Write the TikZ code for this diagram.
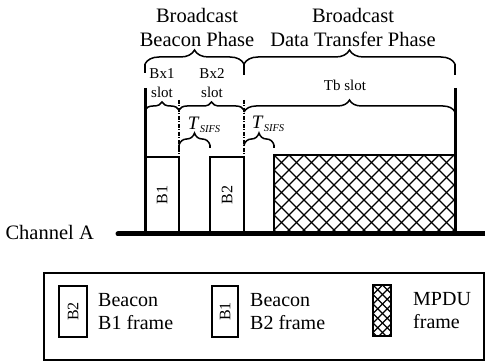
\documentclass[tikz,border=0pt]{standalone}
\usepackage{fontspec}
\setmainfont{Liberation Serif}
\usetikzlibrary{decorations.pathreplacing}
\begin{document}
\begin{tikzpicture}[x=1pt,y=-1pt,
  lbl/.style={font=\fontsize{20.5}{24}\selectfont, align=center, inner sep=0pt},
  leglbl/.style={font=\fontsize{20}{23}\selectfont, align=left, inner sep=0pt, anchor=west},
  small/.style={font=\fontsize{15}{18.5}\selectfont, align=center, inner sep=0pt},
  boxlbl/.style={font=\fontsize{16}{16}\selectfont, inner sep=0pt, rotate=90},
  tsifs/.style={inner sep=0pt},
  frame/.style={draw, line width=1.6pt, fill=white},
  thick/.style={line width=3pt},
  dashdotline/.style={line width=1.3pt, dash pattern=on 4pt off 1.5pt on 1pt off 1.5pt},
  bigbrace/.style={decorate, decoration={brace, amplitude=14pt}, line width=1.5pt},
  midbrace/.style={decorate, decoration={brace, amplitude=12pt}, line width=1.5pt},
  smallbrace/.style={decorate, decoration={brace, amplitude=8pt}, line width=1.5pt},
  hatch/.style={line width=1.1pt},
  chan/.style={line width=5pt, line cap=round}
]
\useasboundingbox (0,0) rectangle (485,363);

% Phase headings
\node[lbl] (bbp) at (197,27) {Broadcast\\Beacon Phase};
\node[lbl] (bdtp) at (353,27) {Broadcast\\Data Transfer Phase};

% big braces
\draw[line width=1.5pt] (145,73) -- (145,64);
\draw[line width=1.5pt] (244,75) -- (244,64);
\draw[line width=1.5pt] (455,75) -- (455,64);
\draw[bigbrace] (145,64) -- (244,64);
\draw[bigbrace] (244,64) -- (455,64);

% slot labels
\node[small] (bx1) at (162,83) {Bx1\\slot};
\node[small] (bx2) at (212,83) {Bx2\\slot};
\node[small] (tb) at (345,85) {Tb slot};

% slot braces
\draw[smallbrace] (145,110) -- (179,110);
\draw[smallbrace] (179,110) -- (244,110);
\draw[midbrace] (244,112) -- (455,112);

% T_SIFS braces
\draw[line width=1.5pt] (179,148) -- (179,145);
\draw[line width=1.5pt] (210,148) -- (210,145);
\draw[midbrace] (179,145) -- (210,145);
\draw[line width=1.5pt] (274,148) -- (274,145);
\draw[midbrace] (244,145) -- (274,145);
\node[tsifs] (ts1) at (204,125) {\fontsize{19}{19}\selectfont\itshape T\kern1.5pt\raisebox{-3pt}{\fontsize{10.5}{10.5}\selectfont SIFS}};
\node[tsifs] (ts2) at (268,124) {\fontsize{19}{19}\selectfont\itshape T\kern1.5pt\raisebox{-3pt}{\fontsize{10.5}{10.5}\selectfont SIFS}};

% frames
\draw[frame] (145,157) rectangle (179,233);
\node[boxlbl] (b1) at (162,195) {B1};
\draw[frame] (210,157) rectangle (244,233);
\node[boxlbl] (b2) at (227,195) {B2};

\draw[frame] (274,155) rectangle (455,233);
\begin{scope}
  \clip (274,155) rectangle (455,233);
  \foreach \i in {-6,...,19} {
    \draw[hatch] (274+\i*15,155) -- ++(80,80);
    \draw[hatch] (274+\i*15,155) -- ++(-80,80);
  }
\end{scope}
\draw[line width=1.6pt] (274,155) rectangle (455,233);

% vertical lines
\draw[thick] (145,88) -- (145,233);
\draw[thick] (455,88) -- (455,233);
\draw[dashdotline] (179,100) -- (179,233);
\draw[dashdotline] (244,100) -- (244,233);

% channel
\node[lbl, anchor=east] (chA) at (94,232) {Channel A};
\coordinate (chs) at (118,234);
\coordinate (che) at (490,234);
\draw[chan] (chs) -- (che);

% legend
\draw[line width=1.5pt] (44,273) rectangle (484,360);
\draw[frame] (59,286) rectangle (87,337);
\node[boxlbl] (lb2) at (73,311.5) {B2};
\node[leglbl] (lt1) at (98,312) {Beacon\\B1 frame};
\draw[frame] (212,286) rectangle (238,337);
\node[boxlbl] (lb1) at (225,311.5) {B1};
\node[leglbl] (lt2) at (250,312) {Beacon\\B2 frame};
\draw[frame] (373,285) rectangle (391,336);
\begin{scope}
  \clip (373,285) rectangle (391,336);
  \foreach \i in {-6,...,8} {
    \draw[hatch] (373+\i*9.5,285) -- ++(60,60);
    \draw[hatch] (373+\i*9.5,285) -- ++(-60,60);
  }
\end{scope}
\draw[line width=1.6pt] (373,285) rectangle (391,336);
\node[leglbl] (lt3) at (413,311) {MPDU\\frame};
\end{tikzpicture}
\end{document}
